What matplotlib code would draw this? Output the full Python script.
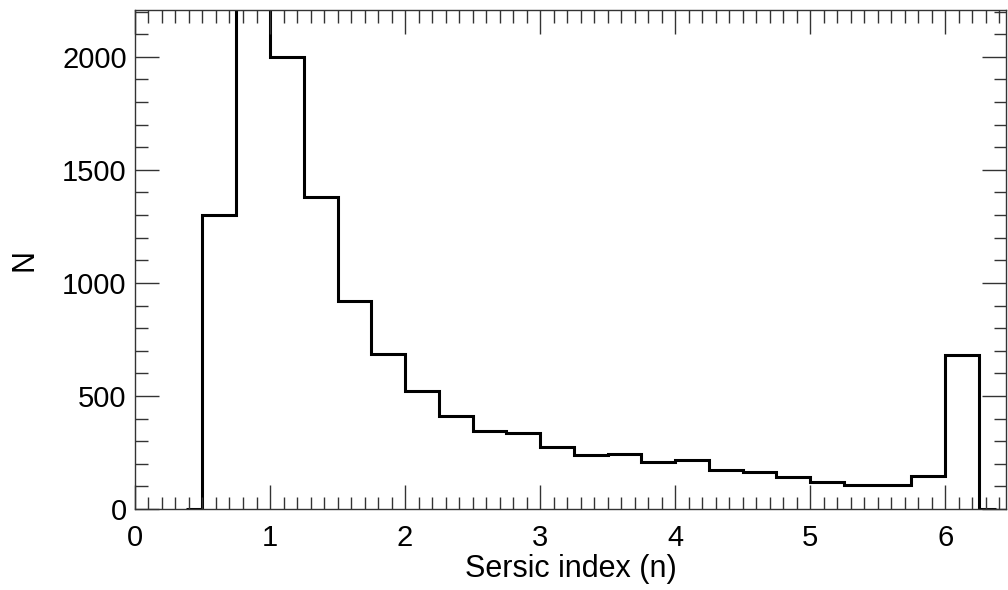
import numpy as np
import matplotlib
matplotlib.use("Agg")
import matplotlib.pyplot as plt
from matplotlib.ticker import MultipleLocator

plt.rcParams["font.family"] = ["Liberation Sans", "DejaVu Sans"]

# histogram of Sersic index, bin width 0.25 (zero bins at the ends)
bin_edges = [0.375, 0.5, 0.75, 1.0, 1.25, 1.5, 1.75, 2.0, 2.25, 2.5, 2.75,
             3.0, 3.25, 3.5, 3.75, 4.0, 4.25, 4.5, 4.75, 5.0, 5.25, 5.5,
             5.75, 6.0, 6.25, 6.375]
counts = [0, 1300, 2210, 2000, 1380, 920, 686, 521, 410, 345, 335,
          273, 239, 245, 208, 218, 174, 164, 143, 121, 107, 107,
          145, 683, 0]

fig = plt.figure(figsize=(10.08, 5.90), dpi=100)
ax = fig.add_axes([0.1339, 0.1373, 0.998 - 0.1339, 0.983 - 0.1373])

ax.stairs(counts, bin_edges, baseline=None, color="black", linewidth=2.2)

ax.set_xlim(0, 6.45)
ax.set_ylim(0, 2207)

ax.xaxis.set_major_locator(MultipleLocator(1))
ax.xaxis.set_minor_locator(MultipleLocator(0.1))
ax.yaxis.set_major_locator(MultipleLocator(500))
ax.yaxis.set_minor_locator(MultipleLocator(100))

ax.tick_params(which="both", direction="in", top=True, right=True,
               color="#333333", width=1.0, labelsize=21)
ax.tick_params(which="major", length=17)
ax.tick_params(which="minor", length=9)
ax.tick_params(axis="x", which="major", pad=11)
ax.tick_params(axis="y", which="major", pad=6)

for s in ax.spines.values():
    s.set_color("#333333")
    s.set_linewidth(1.0)

ax.set_xlabel("Sersic index (n)", fontsize=22, labelpad=1)
ax.set_ylabel("N", fontsize=22, labelpad=16)

fig.savefig("out.png", dpi=100)
